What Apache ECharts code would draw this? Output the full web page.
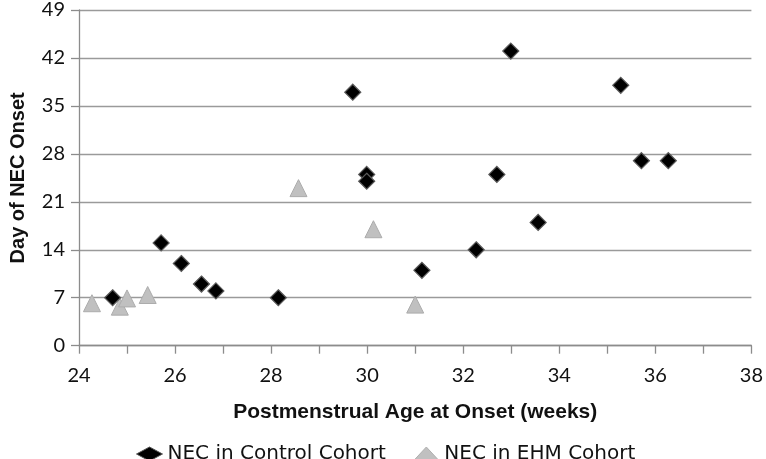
<!DOCTYPE html>
<html>
<head>
<meta charset="utf-8">
<script src="https://cdn.jsdelivr.net/npm/echarts@6/dist/echarts.min.js"></script>
<style>html,body{margin:0;padding:0;background:#fff;}#chart{width:766px;height:459px;}</style>
</head>
<body>
<div id="chart"></div>
<script>
// Data
const controlWeeks = [24.70, 25.71, 26.13, 26.55, 26.85, 28.15, 29.70, 29.99, 29.99, 31.14, 32.27, 32.70, 32.99, 33.56, 35.28, 35.71, 36.27];
const controlDays  = [7, 15, 12, 9, 8, 7, 37, 25, 24, 11, 14, 25, 43, 18, 38, 27, 27];
const ehmWeeks = [24.27, 24.85, 25.00, 25.43, 28.57, 30.13, 31.00];
const ehmDays  = [6.2, 5.7, 6.9, 7.4, 23, 17, 6];
const seriesNames = ['NEC in Control Cohort', 'NEC in EHM Cohort'];
const xTitle = 'Postmenstrual Age at Onset (weeks)';
const yTitle = 'Day of NEC Onset';

const zip = (a, b) => a.map((v, i) => [v, b[i]]);

const chart = echarts.init(document.getElementById('chart'), null, {renderer: 'canvas'});
const axisGray = '#8c8c8c';
const option = {
  animation: false,
  backgroundColor: '#fff',
  grid: {left: 68, right: 11, top: 7.3, bottom: 113.3, containLabel: false},
  xAxis: {
    type: 'value', min: 24, max: 38, interval: 2,
    name: xTitle, nameLocation: 'middle', nameGap: 56,
    nameTextStyle: {fontFamily: 'Liberation Sans', fontWeight: 'bold', fontSize: 21, color: '#111'},
    axisLine: {show: true, lineStyle: {color: axisGray, width: 1.3}},
    axisTick: {show: true, inside: false, length: 8, lineStyle: {color: axisGray, width: 1.3}},
    minorTick: {show: true, splitNumber: 2, length: 8, lineStyle: {color: axisGray, width: 1.3}},
    splitLine: {show: false},
    axisLabel: {fontFamily: 'Lato', fontSize: 20, color: '#111', margin: 20}
  },
  yAxis: {
    type: 'value', min: 0, max: 49, interval: 7,
    name: yTitle, nameLocation: 'middle', nameGap: 51,
    nameTextStyle: {fontFamily: 'Liberation Sans', fontWeight: 'bold', fontSize: 20, color: '#111'},
    axisLine: {show: true, lineStyle: {color: axisGray, width: 1.3}},
    axisTick: {show: true, inside: false, length: 8, lineStyle: {color: axisGray, width: 1.3}},
    splitLine: {show: true, lineStyle: {color: '#9a9a9a', width: 1.3}},
    axisLabel: {fontFamily: 'Lato', fontSize: 20, color: '#111', margin: 14}
  },
  legend: {
    left: 131, top: 439,
    itemWidth: 26, itemHeight: 14, itemGap: 27,
    textStyle: {fontFamily: 'DejaVu Sans', fontSize: 20, color: '#111'},
    data: [
      {name: seriesNames[0], icon: 'diamond', itemStyle: {color: '#000', borderColor: '#555', borderWidth: 1}},
      {name: seriesNames[1], icon: 'triangle', itemStyle: {color: '#c0c0c0', borderColor: '#b0b0b0', borderWidth: 1}}
    ]
  },
  series: [
    {
      name: seriesNames[0], type: 'scatter', symbol: 'diamond', symbolSize: 16,
      data: zip(controlWeeks, controlDays),
      itemStyle: {color: '#000', borderColor: '#5a5a5a', borderWidth: 1.2, opacity: 1},
      z: 3
    },
    {
      name: seriesNames[1], type: 'scatter', symbol: 'triangle', symbolSize: 17,
      data: zip(ehmWeeks, ehmDays),
      itemStyle: {color: '#c0c0c0', borderColor: '#acacac', borderWidth: 1, opacity: 1},
      z: 2
    }
  ]
};
chart.setOption(option);
</script>
</body>
</html>
